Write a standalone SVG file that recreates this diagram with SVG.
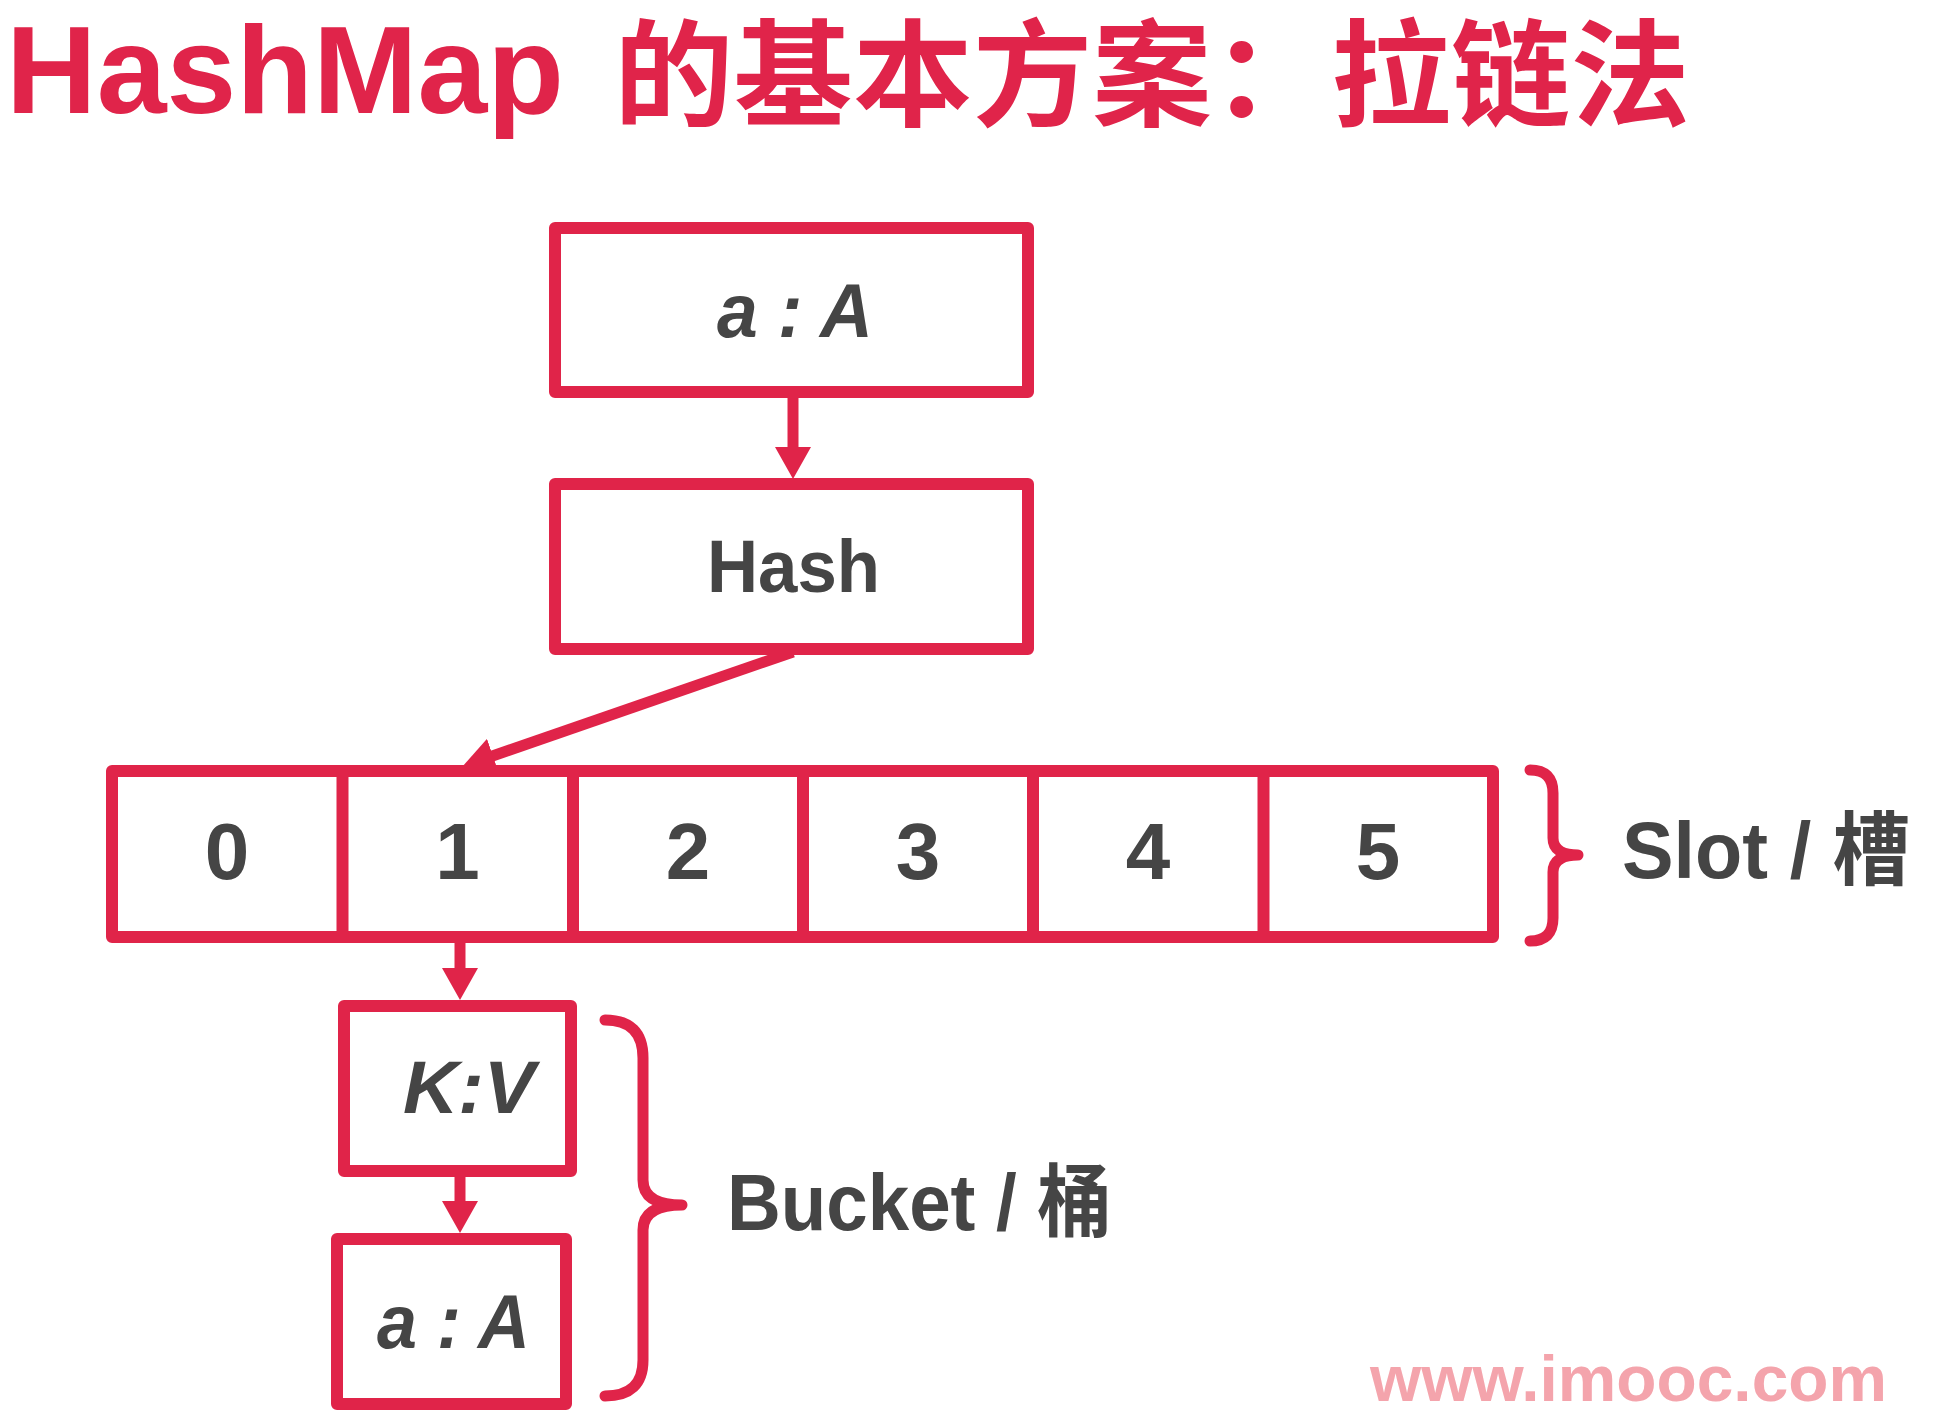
<svg xmlns="http://www.w3.org/2000/svg" width="1944" height="1416" viewBox="0 0 1944 1416">
  <style>
    .box { fill: #ffffff; stroke: #e02449; stroke-width: 12; stroke-linejoin: round; }
    .div { stroke: #e02449; stroke-width: 12; }
    .conn { stroke: #e02449; stroke-width: 11; fill: none; }
    .brace { stroke: #e02449; stroke-width: 11; fill: none; stroke-linecap: round; stroke-linejoin: round; }
    .lbl { font-family: "Liberation Sans", "Noto Sans CJK SC", sans-serif; font-weight: bold; fill: #454545; }
    .it { font-style: italic; }
    .num { font-size: 80px; text-anchor: middle; }
    .title { font-family: "Liberation Sans", "Noto Sans CJK SC", sans-serif; font-weight: bold; fill: #e0244a; }
    .wm { font-family: "Liberation Sans", Arial, sans-serif; font-weight: bold; fill: #f4a4ac; font-size: 64px; }
  </style>
  <defs>
    <marker id="arr" markerUnits="userSpaceOnUse" markerWidth="32" markerHeight="36" viewBox="0 0 32 36" refX="2" refY="18" orient="auto">
      <path d="M0,0 L32,18 L0,36 z" fill="#e02449"/>
    </marker>
  </defs>
  <rect width="1944" height="1416" fill="#ffffff"/>

  <g id="title">
    <text class="title" x="6" y="113" font-size="125" textLength="558" lengthAdjust="spacingAndGlyphs">HashMap</text>
    <text class="title" x="614" y="117" font-size="116" textLength="1076" lengthAdjust="spacingAndGlyphs">的基本方案：拉链法</text>
  </g>

  <g id="connectors">
    <line class="conn" x1="793" y1="398" x2="793" y2="449" marker-end="url(#arr)"/>
    <line class="conn" x1="793" y1="652" x2="491" y2="756.5" marker-end="url(#arr)"/>
    <line class="conn" x1="460" y1="943" x2="460" y2="970" marker-end="url(#arr)"/>
    <line class="conn" x1="460" y1="1177" x2="460" y2="1203" marker-end="url(#arr)"/>
  </g>

  <g id="node-input">
    <rect class="box" x="555" y="228" width="473" height="164"/>
    <text class="lbl it" x="717" y="337" font-size="76" textLength="156" lengthAdjust="spacingAndGlyphs">a : A</text>
  </g>

  <g id="node-hash">
    <rect class="box" x="555" y="484" width="473" height="165"/>
    <text class="lbl" x="707" y="592" font-size="75" textLength="173" lengthAdjust="spacingAndGlyphs">Hash</text>
  </g>

  <g id="node-slots">
    <rect class="box" x="112" y="771" width="1381" height="166"/>
    <line class="div" x1="342.5" y1="771" x2="342.5" y2="937"/>
    <line class="div" x1="573" y1="771" x2="573" y2="937"/>
    <line class="div" x1="803" y1="771" x2="803" y2="937"/>
    <line class="div" x1="1033" y1="771" x2="1033" y2="937"/>
    <line class="div" x1="1263.5" y1="771" x2="1263.5" y2="937"/>
    <text class="lbl num" x="227" y="879">0</text>
    <text class="lbl num" x="457.5" y="879">1</text>
    <text class="lbl num" x="688" y="879">2</text>
    <text class="lbl num" x="918" y="879">3</text>
    <text class="lbl num" x="1148" y="879">4</text>
    <text class="lbl num" x="1378" y="879">5</text>
  </g>

  <g id="slot-label">
    <path class="brace" d="M1530,770 Q1553,770 1553,793 L1553,838 Q1553,855 1578,855 Q1553,855 1553,872 L1553,918 Q1553,941 1530,941"/>
    <text class="lbl" x="1622" y="878" font-size="80" textLength="288" lengthAdjust="spacingAndGlyphs">Slot / 槽</text>
  </g>

  <g id="node-kv">
    <rect class="box" x="344" y="1006" width="227" height="165"/>
    <text class="lbl it" x="403" y="1113" font-size="74" textLength="132" lengthAdjust="spacingAndGlyphs">K:V</text>
  </g>

  <g id="node-aA">
    <rect class="box" x="337" y="1239" width="229" height="165"/>
    <text class="lbl it" x="377" y="1348" font-size="76" textLength="153" lengthAdjust="spacingAndGlyphs">a : A</text>
  </g>

  <g id="bucket-label">
    <path class="brace" d="M605,1020 Q643,1020 643,1058 L643,1180 Q643,1205 682,1205 Q643,1205 643,1230 L643,1360 Q643,1396 605,1396"/>
    <text class="lbl" x="727" y="1230" font-size="80" textLength="385" lengthAdjust="spacingAndGlyphs">Bucket / 桶</text>
  </g>

  <g id="watermark">
    <text class="wm" x="1370" y="1401" textLength="517" lengthAdjust="spacingAndGlyphs">www.imooc.com</text>
  </g>
</svg>
